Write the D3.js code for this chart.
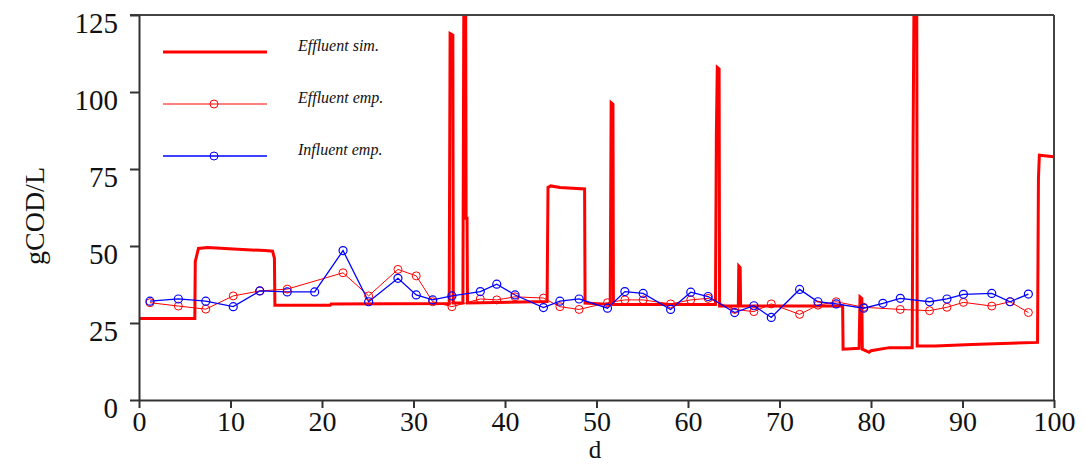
<!DOCTYPE html>
<html lang="en">
	<head>
		<meta charset="utf-8">
		<title>gCOD/L</title>
		<script type="text/javascript" src="https://cdn.jsdelivr.net/npm/d3@7"></script>
		<style type="text/css">
			body { margin: 0; background: #fff; }
			text { font-family: "Liberation Serif", "DejaVu Serif", serif; }
		</style>
	</head>
	<body>
		<script type="text/javascript">

			var width = 1085;
			var height = 464;

			// simulated effluent (step-like trace)
			var simDays = [0, 6.1, 6.15, 6.5, 7.5, 10.3, 13.8, 14.6, 14.8, 14.85, 20.9, 21.0, 33.9, 34.0, 34.3, 34.35, 35.4, 35.5, 35.7, 35.75, 35.85, 35.9,
				44.6, 44.7, 45.0, 46.0, 48.7, 48.75, 51.5, 51.6, 51.8, 51.85, 63.0, 63.1, 63.2, 63.4, 63.45, 65.5, 65.55, 65.7, 65.75,
				76.9, 76.95, 78.7, 78.8, 79.0, 79.05, 79.8, 80.0, 82.0, 84.5, 84.6, 84.7, 85.0, 85.05, 87.0, 91.0, 98.2, 98.3, 98.4, 100];
			var simValues = [26.5, 26.5, 45, 49.2, 49.5, 49, 48.5, 48.3, 46, 30.8, 30.8, 31.2, 31.3, 119, 118.5, 31.5, 31.5, 130, 130, 59, 59, 31.5,
				32, 69, 69.5, 69, 68.5, 31.5, 31, 96.5, 96, 31, 31, 86, 108, 107.5, 30.5, 30.5, 43.5, 43, 30.5,
				30.5, 16.5, 16.8, 33.5, 33, 16.5, 15.5, 16, 17, 17, 84, 130, 130, 17.5, 17.5, 18, 18.7, 72, 79.5, 79];

			// effluent measured
			var effDays = [1.2, 4.3, 7.3, 10.3, 13.2, 16.2, 22.3, 25.1, 28.3, 30.3, 32.1, 34.2, 37.3, 39.1, 41.1, 44.2, 46.0, 48.1,
				51.2, 53.1, 55.1, 58.1, 60.3, 62.2, 65.1, 67.2, 69.1, 72.2, 74.2, 76.2, 79.2, 83.2, 86.4, 88.3, 90.1, 93.2, 95.2, 97.2];
			var effValues = [31.6, 30.5, 29.5, 33.8, 35.4, 36.0, 41.3, 33.8, 42.4, 40.3, 31.9, 30.3, 32.8, 32.5, 33.5, 33.1, 30.3, 29.4,
				31.6, 32.5, 32.5, 31.2, 32.5, 33.0, 29.4, 28.7, 31.2, 27.8, 30.8, 31.9, 30.1, 29.4, 29.0, 30.1, 31.7, 30.5, 31.9, 28.4];

			// influent measured
			var infDays = [1.2, 4.3, 7.3, 10.3, 13.2, 16.2, 19.2, 22.3, 25.1, 28.3, 30.3, 32.1, 34.2, 37.3, 39.1, 41.1, 44.2, 46.0, 48.1,
				51.2, 53.1, 55.1, 58.1, 60.3, 62.2, 65.1, 67.2, 69.1, 72.2, 74.2, 76.2, 79.2, 81.3, 83.2, 86.4, 88.3, 90.1, 93.2, 95.2, 97.2];
			var infValues = [32.1, 32.8, 32.1, 30.3, 35.4, 35.1, 35.1, 48.5, 31.9, 39.5, 34.1, 32.5, 33.8, 35.2, 37.6, 34.1, 30.0, 32.1, 32.8,
				29.8, 35.2, 34.6, 29.4, 35.0, 33.6, 28.4, 30.6, 26.8, 35.9, 31.9, 31.2, 29.8, 31.4, 33.0, 31.9, 32.8, 34.3, 34.6, 31.9, 34.4];

			var xTicks = [0, 10, 20, 30, 40, 50, 60, 70, 80, 90, 100];
			var yTicks = [0, 25, 50, 75, 100, 125];
			var legendLabels = ["Effluent sim.", "Effluent emp.", "Influent emp."];

			var svg = d3.select("body")
						.append("svg")
						.attr("width", width)
						.attr("height", height);

			var xScale = d3.scaleLinear().domain([0, 100]).range([139, 1054]);
			var yScale = d3.scaleLinear().domain([0, 125]).range([400, 15]);

			svg.append("clipPath").attr("id", "plot")
				.append("rect")
				.attr("x", 139).attr("y", 15)
				.attr("width", 915).attr("height", 385);

			var line = d3.line()
				.x(function(d){ return xScale(d[0]); })
				.y(function(d){ return yScale(d[1]); });

			var sim = d3.zip(simDays, simValues);
			var eff = d3.zip(effDays, effValues);
			var inf = d3.zip(infDays, infValues);

			var plot = svg.append("g").attr("clip-path", "url(#plot)");

			plot.append("path").datum(sim)
				.attr("d", line)
				.attr("fill", "none")
				.attr("stroke", "#ff0000")
				.attr("stroke-width", 3);

			plot.append("path").datum(eff)
				.attr("d", line)
				.attr("fill", "none")
				.attr("stroke", "#ff0000")
				.attr("stroke-width", 1);

			plot.append("path").datum(inf)
				.attr("d", line)
				.attr("fill", "none")
				.attr("stroke", "#0000ff")
				.attr("stroke-width", 1.3);

			plot.selectAll("circle.eff").data(eff).enter()
				.append("circle")
				.attr("class", "eff")
				.attr("cx", function(d){ return xScale(d[0]); })
				.attr("cy", function(d){ return yScale(d[1]); })
				.attr("r", 4)
				.attr("fill", "none")
				.attr("stroke", "#ff0000")
				.attr("stroke-width", 1);

			plot.selectAll("circle.inf").data(inf).enter()
				.append("circle")
				.attr("class", "inf")
				.attr("cx", function(d){ return xScale(d[0]); })
				.attr("cy", function(d){ return yScale(d[1]); })
				.attr("r", 4)
				.attr("fill", "none")
				.attr("stroke", "#0000ff")
				.attr("stroke-width", 1.2);

			// frame
			svg.append("line").attr("x1", 130).attr("x2", 1054).attr("y1", 15).attr("y2", 15)
				.attr("stroke", "#444").attr("stroke-width", 2);
			svg.append("line").attr("x1", 1054).attr("x2", 1054).attr("y1", 15).attr("y2", 400)
				.attr("stroke", "#444").attr("stroke-width", 2);

			var xAxis = svg.append("g")
				.attr("transform", "translate(0,400)")
				.call(d3.axisBottom(xScale).tickValues(xTicks).tickSize(8).tickPadding(3).tickSizeOuter(0));

			var yAxis = svg.append("g")
				.attr("transform", "translate(139,0)")
				.call(d3.axisLeft(yScale).tickValues(yTicks).tickSize(9).tickPadding(12).tickSizeOuter(0));

			[xAxis, yAxis].forEach(function(a){
				a.select(".domain").attr("stroke", "#333").attr("stroke-width", 2);
				a.selectAll(".tick line").attr("stroke", "#333").attr("stroke-width", 2);
				a.selectAll(".tick text")
					.attr("fill", "#111")
					.style("font-family", "'Liberation Serif', serif")
					.style("font-size", "29px");
			});
			xAxis.selectAll(".tick text").style("font-size", "28px");
			yAxis.selectAll(".tick text").attr("dy", "0.62em");

			svg.append("text")
				.attr("transform", "translate(44,216) rotate(-90)")
				.attr("text-anchor", "middle")
				.style("font-size", "28px")
				.attr("fill", "#111")
				.text("gCOD/L");

			svg.append("text")
				.attr("x", 595).attr("y", 458)
				.attr("text-anchor", "middle")
				.style("font-size", "25px")
				.attr("fill", "#111")
				.text("d");

			// legend
			var legendY = [52, 104, 156];
			var legendColor = ["#ff0000", "#ff0000", "#0000ff"];
			var legendWidth = [3, 1, 1.3];
			var legend = svg.selectAll("g.leg").data(legendLabels).enter()
				.append("g").attr("class", "leg");
			legend.append("line")
				.attr("x1", 163).attr("x2", 267)
				.attr("y1", function(d, i){ return legendY[i]; })
				.attr("y2", function(d, i){ return legendY[i]; })
				.attr("stroke", function(d, i){ return legendColor[i]; })
				.attr("stroke-width", function(d, i){ return legendWidth[i]; });
			legend.filter(function(d, i){ return i > 0; })
				.append("circle")
				.attr("cx", 214)
				.attr("cy", function(d){ return legendY[legendLabels.indexOf(d)]; })
				.attr("r", 4)
				.attr("fill", "none")
				.attr("stroke", function(d){ return legendColor[legendLabels.indexOf(d)]; });
			legend.append("text")
				.attr("x", 298)
				.attr("y", function(d, i){ return legendY[i] - 1; })
				.style("font-size", "16px")
				.style("font-style", "italic")
				.attr("fill", "#111")
				.text(function(d){ return d; });

		</script>
	</body>
</html>
